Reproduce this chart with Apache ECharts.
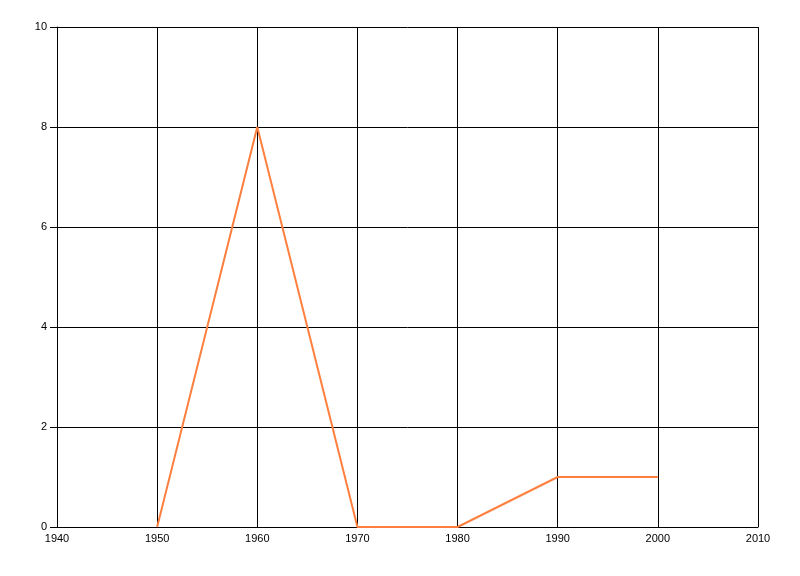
<!DOCTYPE html>
<html><head><meta charset="utf-8">
<script src="https://cdn.jsdelivr.net/npm/echarts@6/dist/echarts.min.js"></script>
<style>html,body{margin:0;padding:0;background:#fff}#c{width:800px;height:576px}</style>
</head><body><div id="c"></div>
<script>
const years = [1950, 1960, 1970, 1980, 1990, 2000];
const values = [0, 8, 0, 0, 1, 1];
const xMin = 1940, xMax = 2010, xStep = 10;
const yMin = 0, yMax = 10, yStep = 2;

const chart = echarts.init(document.getElementById('c'), null, {renderer: 'canvas'});
const lineStyle = {color: '#000', width: 1};
chart.setOption({
  animation: false,
  grid: {left: 57, right: 42, top: 27, bottom: 49, containLabel: false},
  xAxis: {
    type: 'value', min: xMin, max: xMax, interval: xStep,
    axisLine: {show: true, lineStyle},
    axisTick: {show: false},
    splitLine: {show: true, lineStyle},
    axisLabel: {color: '#000', fontFamily: 'Liberation Sans, Arial', fontSize: 11, margin: 6,
      formatter: v => String(v)}
  },
  yAxis: {
    type: 'value', min: yMin, max: yMax, interval: yStep,
    axisLine: {show: true, lineStyle},
    axisTick: {show: true, length: 7, lineStyle},
    splitLine: {show: true, lineStyle},
    axisLabel: {color: '#000', fontFamily: 'Liberation Sans, Arial', fontSize: 11, margin: 10,
      formatter: v => String(v)}
  },
  series: [{
    type: 'line',
    data: years.map((y, i) => [y, values[i]]),
    symbol: 'none',
    lineStyle: {color: '#FF7F3F', width: 2},
    itemStyle: {color: '#FF7F3F'}
  }]
});
</script></body></html>
